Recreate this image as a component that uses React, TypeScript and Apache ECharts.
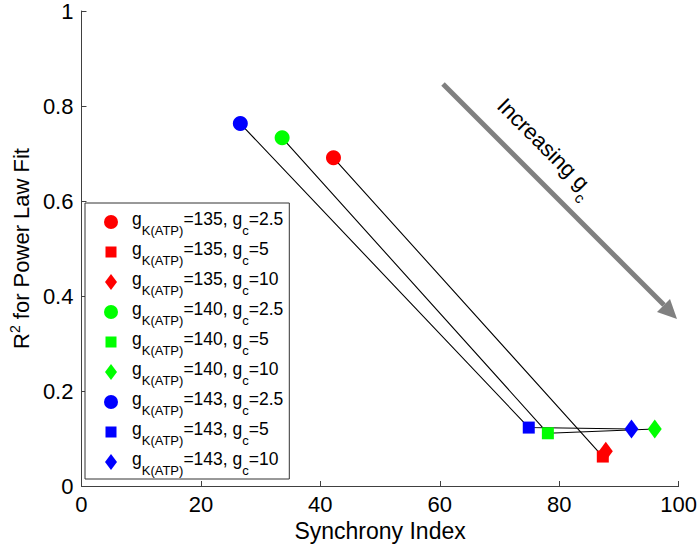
import React, { useEffect, useRef } from 'react';
import * as echarts from 'echarts';

// ---- data ----
const gkLevels = ['135', '140', '143'];
const gcLevels = ['2.5', '5', '10'];
const sync135 = [42.2, 87.3, 87.8];
const r2_135 = [0.691, 0.062, 0.073];
const sync140 = [33.6, 78.1, 96.0];
const r2_140 = [0.733, 0.111, 0.120];
const sync143 = [26.6, 74.9, 92.1];
const r2_143 = [0.763, 0.123, 0.120];
const xTicks = [0, 20, 40, 60, 80, 100];
const yTicks = [0, 0.2, 0.4, 0.6, 0.8, 1];

const syncByGk = [sync135, sync140, sync143];
const r2ByGk = [r2_135, r2_140, r2_143];

// ---- styles ----
const colors = ['#ff0000', '#00ff00', '#0000ff'];
const shapes = ['circle', 'rect', 'diamond'];
const shapeSizes: any[] = [15, 12, [14, 19]];
const legendIcons = [
  'path://M0,0M16,16M1,8A7,7,0,1,1,15,8A7,7,0,1,1,1,8Z',
  'path://M0,0M16,16M2.5,2.5L13.5,2.5L13.5,13.5L2.5,13.5Z',
  'path://M0,0M16,16M8,0L14,8L8,16L2,8Z',
];
const FONT = 'Liberation Sans, Arial, Helvetica, sans-serif';

const seriesName = (gk: string, gc: string) => `gK(ATP)=${gk}, gc=${gc}`;

export default function App() {
  const ref = useRef<HTMLDivElement>(null);
  useEffect(() => {
    if (!ref.current) return;
    document.body.style.margin = '0';
    const chart = echarts.init(ref.current, undefined, { renderer: 'svg' });

    const richMap: Record<string, string> = {};
    const legendData: any[] = [];
    const series: any[] = [];

    gkLevels.forEach((gk, i) => {
      series.push({
        name: `link-${gk}`,
        type: 'line',
        data: syncByGk[i].map((x, j) => [x, r2ByGk[i][j]]),
        symbol: 'none',
        showSymbol: false,
        silent: true,
        z: 1,
        lineStyle: { color: '#000', width: 1.1 },
        itemStyle: { color: '#000' },
      });
    });

    gkLevels.forEach((gk, i) => {
      gcLevels.forEach((gc, j) => {
        const name = seriesName(gk, gc);
        richMap[name] = `{n|g}{s|K(ATP)}{n|=${gk}, g}{s|c}{n|=${gc}}`;
        legendData.push({ name, icon: legendIcons[j] });
        series.push({
          name,
          type: 'scatter',
          data: [[syncByGk[i][j], r2ByGk[i][j]]],
          symbol: shapes[j],
          symbolSize: shapeSizes[j],
          z: 3,
          itemStyle: { color: colors[i], opacity: 1 },
        });
      });
    });

    const axisLine = { lineStyle: { color: '#404040', width: 1 } };

    chart.setOption({
      animation: false,
      backgroundColor: '#fff',
      grid: { left: 76, right: 20, top: 10, bottom: 66, containLabel: false },
      xAxis: {
        type: 'value',
        min: xTicks[0],
        max: xTicks[xTicks.length - 1],
        interval: xTicks[1] - xTicks[0],
        name: 'Synchrony Index',
        nameLocation: 'middle',
        nameGap: 32,
        nameTextStyle: { fontSize: 23, color: '#000', fontFamily: FONT },
        axisLine,
        axisTick: { inside: true, length: 5, lineStyle: { color: '#404040' } },
        axisLabel: { fontSize: 22, color: '#000', fontFamily: FONT, margin: 7 },
        splitLine: { show: false },
      },
      yAxis: {
        type: 'value',
        min: yTicks[0],
        max: yTicks[yTicks.length - 1],
        interval: yTicks[1] - yTicks[0],
        name: 'R{sup|2} for Power Law Fit',
        nameLocation: 'middle',
        nameGap: 37,
        nameTextStyle: {
          fontSize: 22,
          color: '#000',
          fontFamily: FONT,
          rich: {
            sup: { fontSize: 14, fontFamily: FONT, color: '#000', padding: [0, 0, 12, 0] },
          },
        },
        axisLine: { show: true, ...axisLine },
        axisTick: { show: true, inside: true, length: 5, lineStyle: { color: '#404040' } },
        axisLabel: { fontSize: 22, color: '#000', fontFamily: FONT, margin: 8 },
        splitLine: { show: false },
      },
      legend: {
        orient: 'vertical',
        align: 'left',
        left: 85,
        top: 203,
        data: legendData,
        itemWidth: 32,
        itemHeight: 16,
        itemGap: 0,
        padding: [4, 6, 2, 18],
        borderColor: '#333',
        borderWidth: 1,
        backgroundColor: '#fff',
        selectedMode: false,
        formatter: (name: string) => richMap[name] || name,
        textStyle: {
          fontFamily: FONT,
          color: '#000',
          fontSize: 17,
          rich: {
            n: { fontSize: 17.5, fontFamily: FONT, color: '#000', padding: [0, 0, 6, 0] },
            s: { fontSize: 13, fontFamily: FONT, color: '#000', lineHeight: 12, padding: [17, 0, 0, 0] },
          },
        },
      },
      graphic: [
        {
          type: 'line',
          shape: { x1: 443, y1: 84, x2: 664, y2: 305 },
          style: { stroke: '#808080', lineWidth: 5 },
          z: 10,
        },
        {
          type: 'polygon',
          shape: { points: [[677, 319], [657, 312], [670, 299]] },
          style: { fill: '#808080' },
          z: 10,
        },
        {
          type: 'text',
          x: 544,
          y: 149,
          rotation: -Math.PI / 4,
          z: 10,
          style: {
            text: '{n|Increasing g}{s|c}',
            align: 'center',
            verticalAlign: 'middle',
            fill: '#000',
            font: `22px ${FONT}`,
            rich: {
              n: { fontSize: 22, fontFamily: FONT, fill: '#000', padding: [0, 0, 6, 0] },
              s: { fontSize: 15, fontFamily: FONT, fill: '#000', lineHeight: 14, padding: [18, 0, 0, 0] },
            },
          },
        },
      ],
      series,
    });

    return () => chart.dispose();
  }, []);

  return <div ref={ref} style={{ width: 700, height: 552 }} />;
}
